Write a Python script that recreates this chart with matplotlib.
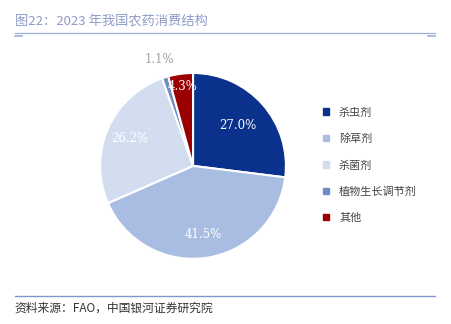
import matplotlib.pyplot as plt
import numpy as np

plt.rcParams['font.family'] = ['Noto Sans CJK SC', 'DejaVu Sans']

labels = ['杀虫剂', '除草剂', '杀菌剂', '植物生长调节剂', '其他']
shares = [27.0, 41.5, 26.2, 1.1, 4.3]
colors = ['#0a318c', '#a9bde3', '#d3ddf0', '#6f8dc3', '#9b0000']
label_dist = [0.65, 0.75, 0.74, 1.2, 0.86]
label_colors = ['white', 'white', 'white', '#a0a0a0', 'white']

fig = plt.figure(figsize=(4.51, 3.24), dpi=100)

# title and top rule
fig.text(0.033, 0.933, '图22：2023 年我国农药消费结构', fontsize=9.5,
         color='#8d9cc8', va='center', ha='left')
fig.add_artist(plt.Line2D([0.033, 0.965], [0.898, 0.898], color='#9fb0d8', lw=0.9))
fig.add_artist(plt.Line2D([0.033, 0.048], [0.890, 0.890], color='#9fb0d8', lw=1.2))
fig.add_artist(plt.Line2D([0.950, 0.965], [0.890, 0.890], color='#9fb0d8', lw=1.2))

# bottom rule and source
fig.add_artist(plt.Line2D([0.033, 0.965], [0.087, 0.087], color='#7e97cf', lw=1.0))
fig.text(0.033, 0.049, '资料来源：FAO，中国银河证券研究院', fontsize=8.5,
         color='#333333', style='italic', va='center', ha='left')

ax = fig.add_axes([0.222, 0.201, 0.412, 0.574])
wedges, _ = ax.pie(shares, colors=colors, startangle=90, counterclock=False,
                   wedgeprops=dict(edgecolor='white', linewidth=1.5))
ax.set_xlim(-1, 1)
ax.set_ylim(-1, 1)
ax.set_aspect('equal')

for w, val, d, c in zip(wedges, shares, label_dist, label_colors):
    ang = np.deg2rad((w.theta1 + w.theta2) / 2)
    ax.text(d * np.cos(ang), d * np.sin(ang), f'{val:.1f}%', color=c,
            ha='center', va='center', fontsize=8.5, family='DejaVu Serif')

# legend
handles = [plt.Rectangle((0, 0), 1, 1, color=c) for c in colors]
fig.legend(handles, labels, loc='center left', bbox_to_anchor=(0.695, 0.49),
           frameon=False, fontsize=8, handlelength=0.5, handleheight=0.5,
           labelspacing=1.45, handletextpad=0.9, labelcolor='#444444')

plt.savefig('out.png', dpi=100)
